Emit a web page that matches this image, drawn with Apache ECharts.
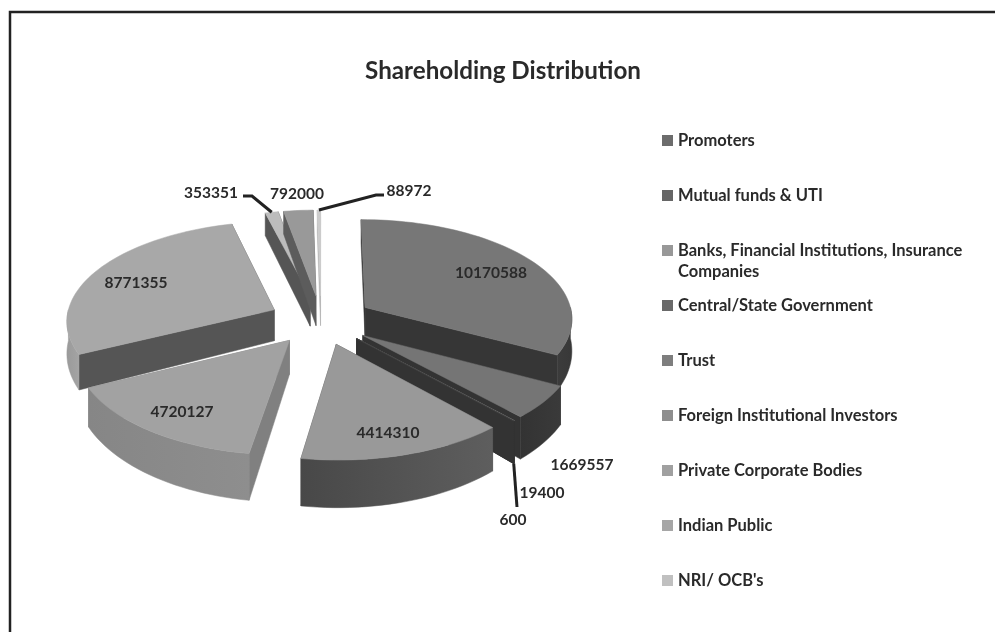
<!DOCTYPE html>
<html>
<head>
<meta charset="utf-8">
<title>Shareholding Distribution</title>
<script src="https://cdn.jsdelivr.net/npm/echarts@6/dist/echarts.min.js"></script>
<style>
html, body { margin: 0; padding: 0; background: #fff; }
#chart { width: 995px; height: 632px; }
</style>
</head>
<body>
<div id="chart"></div>
<script>
// 数据
const categories = ['Promoters', 'Mutual funds & UTI', 'Banks, Financial Institutions, Insurance Companies',
    'Central/State Government', 'Trust', 'Foreign Institutional Investors', 'Private Corporate Bodies',
    'Indian Public', "NRI/ OCB's"];
// the tenth slice has no legend entry in the original
const values = [10170588, 1669557, 19400, 600, 4414310, 4720127, 8771355, 353351, 792000, 88972];

// 样式
const legendColors = ['#6c6c6c', '#666666', '#989898', '#696969', '#7e7e7e', '#8e8e8e', '#a0a0a0', '#a6a6a6', '#c0c0c0', '#c4c4c4'];
const topColors = ['#777777', '#757575', '#8a8a8a', '#444444', '#999999', '#a2a2a2', '#a8a8a8', '#bcbcbc', '#999999', '#cccccc'];
const cutColors = ['#363636', '#333333', '#333333', '#333333', '#4a4a4a', '#808080', '#555555', '#555555', '#5c5c5c', '#b4b4b4'];
const rimColors = [
    ['#383838', '#3c3c3c'], ['#3a3a3a', '#333333'], ['#333333', '#333333'], ['#333333', '#333333'],
    ['#5e5e5e', '#484848'], ['#8e8e8e', '#868686'], ['#a4a4a4', '#9a9a9a'],
    ['#555555', '#555555'], ['#666666', '#666666'], ['#b4b4b4', '#b4b4b4']
];
const drawOrder = [4, 5, 6, 7, 9, 8, 0, 1, 2, 3]; // z of each slice, far ones first

// 标签位置 (label centres)
const labelPos = [[491, 273], [582, 465], [542, 493], [513, 520], [388, 433], [182, 412], [136, 283], [211, 193], [297, 194], [409, 191]];
// leader lines: slice index, elbow points, start on wall bottom or not
const leaders = [
    { slice: 3, points: [[517, 507]], bottom: true },
    { slice: 7, points: [[252, 196], [243, 196]], bottom: false },
    { slice: 9, points: [[376, 195], [384, 195]], bottom: false }
];

// 饼图投影参数
const cx = 321, cy = 320, radiusX = 208, radiusY = 99, persp = 0.1, explode = 0.25, depth = 32;

const total = values.reduce(function (a, b) { return a + b; }, 0);
const angles = [];
let acc = 0;
values.forEach(function (v) {
    angles.push([acc / total * 360, (acc + v) / total * 360]);
    acc += v;
});

// unit pie point -> screen, angle clockwise from 12 o'clock
function project(slice, deg, r, down) {
    const mid = (angles[slice][0] + angles[slice][1]) / 2 * Math.PI / 180;
    const a = deg * Math.PI / 180;
    const u = explode * Math.sin(mid) + r * Math.sin(a);
    const v = -explode * Math.cos(mid) - r * Math.cos(a);
    const s = 1 / (1 - persp * v);
    const y = cy + radiusY * v * s;
    return [cx + radiusX * u * s, down ? y + depth * s * s * s : y];
}

function arcPoints(slice, from, to, down) {
    const pts = [];
    const n = Math.max(2, Math.ceil((to - from) / 2));
    for (let i = 0; i <= n; i++) {
        pts.push(project(slice, from + (to - from) * i / n, 1, down));
    }
    return pts;
}

function poly(points, fill) {
    return { type: 'polygon', shape: { points: points }, style: { fill: fill, stroke: fill, lineWidth: 0.5 } };
}

// one slice: cut faces, outer rim, top
function renderSlice(params) {
    const i = params.seriesIndex;
    const from = angles[i][0], to = angles[i][1];
    const children = [];
    const apexTop = project(i, 0, 0, false), apexDown = project(i, 0, 0, true);

    const cuts = [from, to].map(function (deg) {
        const outerTop = project(i, deg, 1, false), outerDown = project(i, deg, 1, true);
        return { y: outerTop[1], pts: [apexTop, outerTop, outerDown, apexDown] };
    });
    cuts.sort(function (a, b) { return a.y - b.y; });
    cuts.forEach(function (c) { children.push(poly(c.pts, cutColors[i])); });

    const rimFrom = Math.max(from, 90), rimTo = Math.min(to, 270);
    if (rimTo > rimFrom) {
        const top = arcPoints(i, rimFrom, rimTo, false);
        const bottom = arcPoints(i, rimFrom, rimTo, true).reverse();
        const grad = new echarts.graphic.LinearGradient(0, 0, 1, 0, [
            { offset: 0, color: rimColors[i][1] },
            { offset: 1, color: rimColors[i][0] }
        ]);
        children.push(poly(top.concat(bottom), grad));
    }

    const surface = [apexTop].concat(arcPoints(i, from, to, false));
    children.push(poly(surface, topColors[i]));
    return { type: 'group', children: children };
}

// value labels and leader lines sit over all slices
function renderLabels() {
    const children = [];
    leaders.forEach(function (l) {
        const deg = (angles[l.slice][0] + angles[l.slice][1]) / 2;
        const start = project(l.slice, deg, 1, l.bottom);
        children.push({
            type: 'polyline',
            shape: { points: [start].concat(l.points) },
            style: { fill: null, stroke: '#222222', lineWidth: 3 }
        });
    });
    values.forEach(function (v, i) {
        children.push({
            type: 'text',
            x: labelPos[i][0],
            y: labelPos[i][1],
            style: {
                text: String(v),
                fill: '#2a2a2a',
                font: 'bold 15.5px Lato',
                align: 'center',
                verticalAlign: 'middle'
            }
        });
    });
    return { type: 'group', children: children };
}

function initPieChart() {
    const chart = echarts.init(document.getElementById('chart'), null, { renderer: 'canvas' });

    const series = values.map(function (v, i) {
        return {
            type: 'custom',
            name: i < categories.length ? categories[i] : 'Other',
            coordinateSystem: 'none',
            z: 2 + drawOrder[i],
            silent: true,
            animation: false,
            itemStyle: { color: legendColors[i] },
            renderItem: renderSlice,
            data: [v]
        };
    });
    series.push({
        type: 'custom',
        name: 'labels',
        coordinateSystem: 'none',
        z: 30,
        silent: true,
        animation: false,
        renderItem: renderLabels,
        data: [0]
    });

    const option = {
        backgroundColor: '#ffffff',
        animation: false,
        color: legendColors,
        title: {
            text: 'Shareholding Distribution',
            left: 498,
            top: 54,
            textAlign: 'center',
            textStyle: { fontFamily: 'Lato', fontWeight: 'bold', fontSize: 24.2, color: '#2a2a2a' }
        },
        legend: {
            orient: 'vertical',
            left: 662,
            top: 132,
            padding: 0,
            icon: 'rect',
            itemWidth: 11,
            itemHeight: 11,
            itemGap: 38,
            selectedMode: false,
            data: categories,
            formatter: function (name) {
                return name.replace(' Companies', '');
            },
            textStyle: { fontFamily: 'Lato', fontWeight: 'bold', fontSize: 16.5, color: '#2a2a2a' }
        },
        graphic: [
            {
                type: 'rect',
                shape: { x: 10, y: 12, width: 990, height: 630 },
                style: { fill: null, stroke: '#222222', lineWidth: 2.5 },
                silent: true
            },
            {
                type: 'text',
                x: 678,
                y: 272,
                style: {
                    text: 'Companies',
                    fill: '#2a2a2a',
                    font: 'bold 16.5px Lato',
                    verticalAlign: 'middle'
                },
                silent: true
            }
        ],
        series: series
    };

    chart.setOption(option);

    // 响应式
    window.addEventListener('resize', function () {
        chart.resize();
    });
}

initPieChart();
</script>
</body>
</html>
